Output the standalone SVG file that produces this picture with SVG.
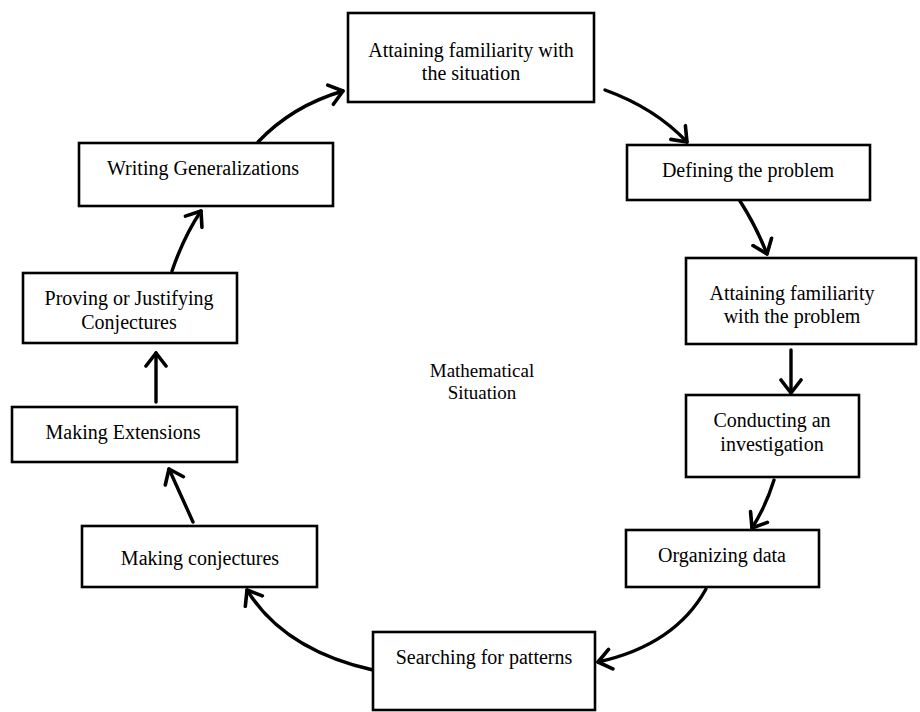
<svg xmlns="http://www.w3.org/2000/svg" width="920" height="712" viewBox="0 0 920 712">
<style>
.box{fill:#fff;stroke:#000;stroke-width:2.6}
.t{font-family:"Liberation Serif","Times New Roman",serif;font-size:20px;fill:#000;text-anchor:middle;dominant-baseline:central}
.c{fill:none;stroke:#000;stroke-width:3.4;stroke-linecap:round}
</style>
<defs>
<marker id="ah" markerUnits="userSpaceOnUse" markerWidth="26" markerHeight="26" refX="15" refY="13" orient="auto">
<polyline points="2,3 15,13 2,23" fill="none" stroke="#000" stroke-width="3.6" stroke-linecap="round" stroke-linejoin="round"/>
</marker>
</defs>
<rect width="920" height="712" fill="#fff"/>
<g id="connectors">
<path class="c" d="M605,90 Q655,108 687,142" marker-end="url(#ah)"/>
<path class="c" d="M740,201 Q756,226 767,254" marker-end="url(#ah)"/>
<path class="c" d="M791,350 L791,393" marker-end="url(#ah)"/>
<path class="c" d="M774,480 Q766,506 752,528" marker-end="url(#ah)"/>
<path class="c" d="M706,589 Q675,645 598,662" marker-end="url(#ah)"/>
<path class="c" d="M373,670 Q284,650 247,590" marker-end="url(#ah)"/>
<path class="c" d="M193,522 L169,469" marker-end="url(#ah)"/>
<path class="c" d="M156,402 L156,353" marker-end="url(#ah)"/>
<path class="c" d="M172,271 Q184,236 201,211" marker-end="url(#ah)"/>
<path class="c" d="M258,142 Q292,106 343,91" marker-end="url(#ah)"/>
</g>
<g id="n1"><rect class="box" x="348" y="13" width="246" height="89"/><text class="t" x="471" y="50">Attaining familiarity with</text><text class="t" x="471" y="73">the situation</text></g>
<g id="n2"><rect class="box" x="627" y="145" width="243" height="55"/><text class="t" x="748" y="170">Defining the problem</text></g>
<g id="n3"><rect class="box" x="686" y="258" width="230" height="86"/><text class="t" x="792" y="293">Attaining familiarity</text><text class="t" x="792" y="316">with the problem</text></g>
<g id="n4"><rect class="box" x="686" y="395" width="173" height="82"/><text class="t" x="772" y="420">Conducting an</text><text class="t" x="772" y="444">investigation</text></g>
<g id="n5"><rect class="box" x="626" y="530" width="193" height="57"/><text class="t" x="722" y="555">Organizing data</text></g>
<g id="n6"><rect class="box" x="373" y="632" width="222" height="78"/><text class="t" x="484" y="657">Searching for patterns</text></g>
<g id="n7"><rect class="box" x="82" y="526" width="235" height="61"/><text class="t" x="200" y="558">Making conjectures</text></g>
<g id="n8"><rect class="box" x="12" y="407" width="225" height="55"/><text class="t" x="123" y="432">Making Extensions</text></g>
<g id="n9"><rect class="box" x="23" y="273" width="214" height="70"/><text class="t" x="129" y="298">Proving or Justifying</text><text class="t" x="129" y="322">Conjectures</text></g>
<g id="n10"><rect class="box" x="79" y="143" width="254" height="63"/><text class="t" x="203" y="168">Writing Generalizations</text></g>
<g id="center"><text class="t" x="482" y="370" style="font-size:19px">Mathematical</text><text class="t" x="482" y="392" style="font-size:19px">Situation</text></g>
</svg>
